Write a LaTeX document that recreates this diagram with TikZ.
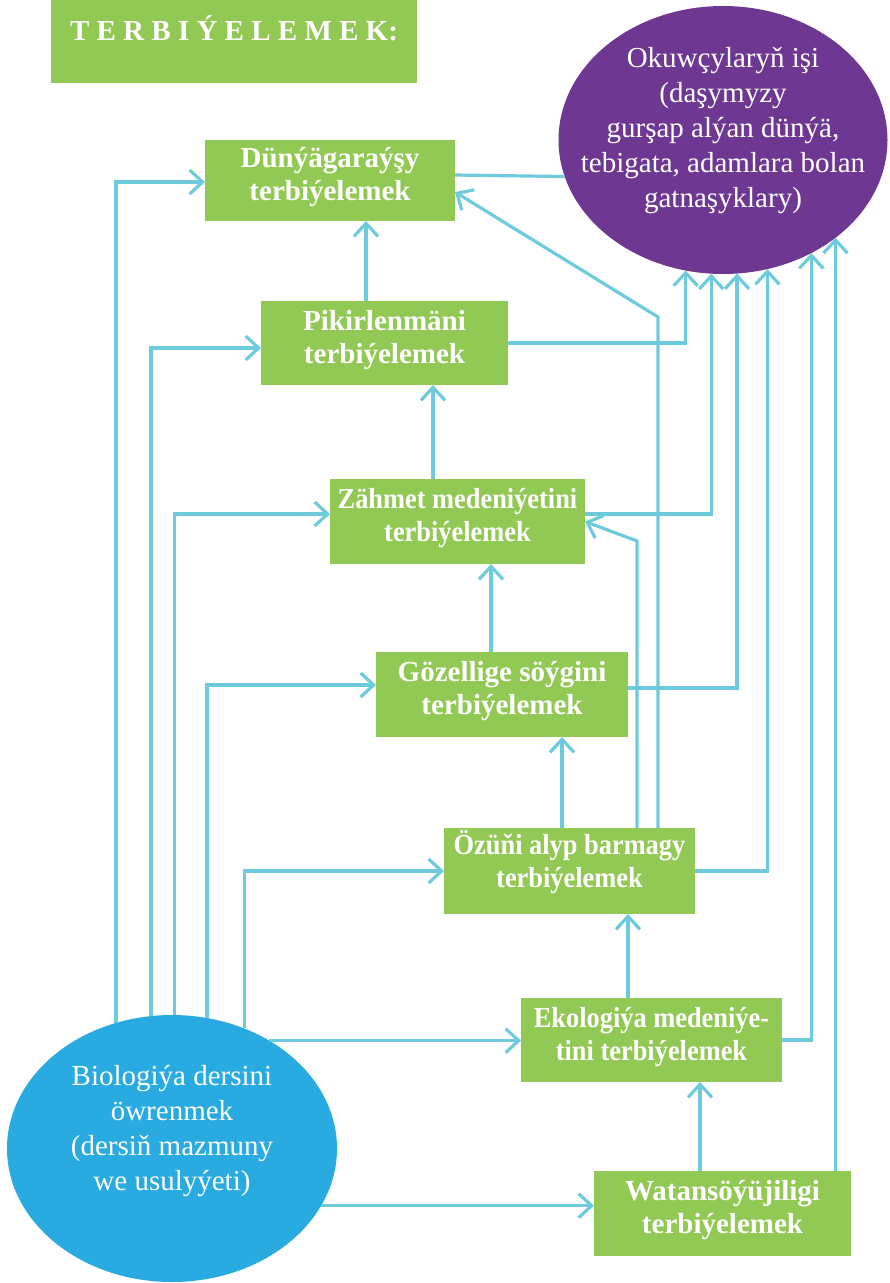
\documentclass[tikz,border=0pt]{standalone}
\usepackage{fontspec}
\setmainfont{Liberation Serif}
\newfontfamily\narrowserif{Liberation Serif}[FakeStretch=0.91]
\usetikzlibrary{arrows.meta,shapes.geometric}

\definecolor{boxgreen}{RGB}{146,200,84}
\definecolor{okpurple}{RGB}{110,55,146}
\definecolor{biolblue}{RGB}{41,171,226}
\definecolor{linecyan}{RGB}{110,203,221}

\tikzset{
    greenbox/.style={fill=boxgreen, text=white, inner sep=0pt, outer sep=0pt, align=center,
        font={\fontsize{29}{33}\selectfont\bfseries}, text height=53pt, text depth=13pt},
    narrowbox/.style={greenbox, font={\narrowserif\fontsize{29}{33}\selectfont\bfseries}},
    oval/.style={ellipse, text=white, outer sep=0pt, align=center,
        font={\fontsize{29}{35}\selectfont}},
    link/.style={draw=linecyan, line width=3.2pt},
    arr/.style={link, -{Straight Barb[length=13pt,width=24pt]}},
}

\begin{document}
\begin{tikzpicture}[x=1pt,y=-1pt]
    \useasboundingbox (0,0) rectangle (890,1283);

    \node[greenbox, anchor=north west, minimum width=366pt, minimum height=83pt,
        text height=40pt, text depth=43pt] (title) at (51,0) {T E R B I Ý E L E M E K:};

    \node[greenbox, minimum width=250pt, minimum height=81pt] (dun) at (330,180.5)
        {Dünýägaraýşy\\terbiýelemek};
    \node[greenbox, minimum width=247pt, minimum height=84pt] (pik) at (384.5,343)
        {Pikirlenmäni\\terbiýelemek};
    \node[narrowbox, minimum width=255pt, minimum height=85pt] (zah) at (457.5,521.5)
        {Zähmet medeniýetini\\terbiýelemek};
    \node[greenbox, minimum width=252pt, minimum height=85pt] (goz) at (502,694.5)
        {Gözellige söýgini\\terbiýelemek};
    \node[narrowbox, minimum width=251pt, minimum height=86pt, text depth=20pt] (ozu) at (569.5,871)
        {Özüňi alyp barmagy\\terbiýelemek};
    \node[narrowbox, minimum width=261pt, minimum height=84pt] (eko) at (651.5,1040)
        {Ekologiýa medeniýe-\\tini terbiýelemek};
    \node[greenbox, minimum width=257pt, minimum height=85pt] (wat) at (722.5,1213.5)
        {Watansöýüjiligi\\terbiýelemek};

    \node[oval, fill=okpurple, minimum width=329pt, minimum height=268pt, inner sep=-40pt,
        text height=162pt, text depth=28pt] (ok) at (723,140)
        {Okuwçylaryň işi\\(daşymyzy\\gurşap alýan dünýä,\\tebigata, adamlara bolan\\gatnaşyklary)};
    \node[oval, fill=biolblue, minimum width=330pt, minimum height=267pt, inner sep=-30pt,
        text height=125pt, text depth=42pt] (bio) at (172,1148.5)
        {Biologiýa dersini\\öwrenmek\\(dersiň mazmuny\\we usulyýeti)};

    % lesson oval to the boxes
    \foreach\a/\t/\s in {114.0/dun/-1.5, 99.9/pik/-5, 89.7/zah/7.5, 75.4/goz/9.5, 59.9/ozu/0}
    {   \draw[arr] (bio.\a) |- ([yshift=\s pt]\t.west);
    }
    \draw[arr] (bio.48.5) -- (bio.48.5 -| eko.west);
    \draw[arr] (bio.-21.1) -- (bio.-21.1 -| wat.west);

    % boxes up to the pupils' oval
    \foreach\t/\s/\a in {pik/0/-106.7, zah/7.5/-95.6, goz/6.5/-84.0, ozu/0/-71.2, eko/0/-52.6}
    {   \draw[arr] ([yshift=\s pt]\t.east) -| (ok.\a);
    }
    \draw[arr] (ok.-41.2 |- wat.north) -- (ok.-41.2);
    \draw[link] ([yshift=5.5pt]dun.east) -- (ok.-167.6);

    % chain of boxes
    \foreach\f/\t/\s in {pik/dun/-18.5, zah/pik/-24.5, goz/zah/-11, ozu/goz/-7.5, eko/ozu/-23.5, wat/eko/-22.5}
    {   \draw[arr] ([xshift=\s pt]\f.north) -- ([xshift=\s pt]\f.north |- \t.south);
    }

    \draw[arr] ([xshift=88.5pt]ozu.north) -- ++(0,-511) -- ([yshift=-11.5pt]dun.east);
    \draw[arr] ([xshift=67.5pt]ozu.north) -- ++(0,-287) -- (zah.east);
\end{tikzpicture}
\end{document}
